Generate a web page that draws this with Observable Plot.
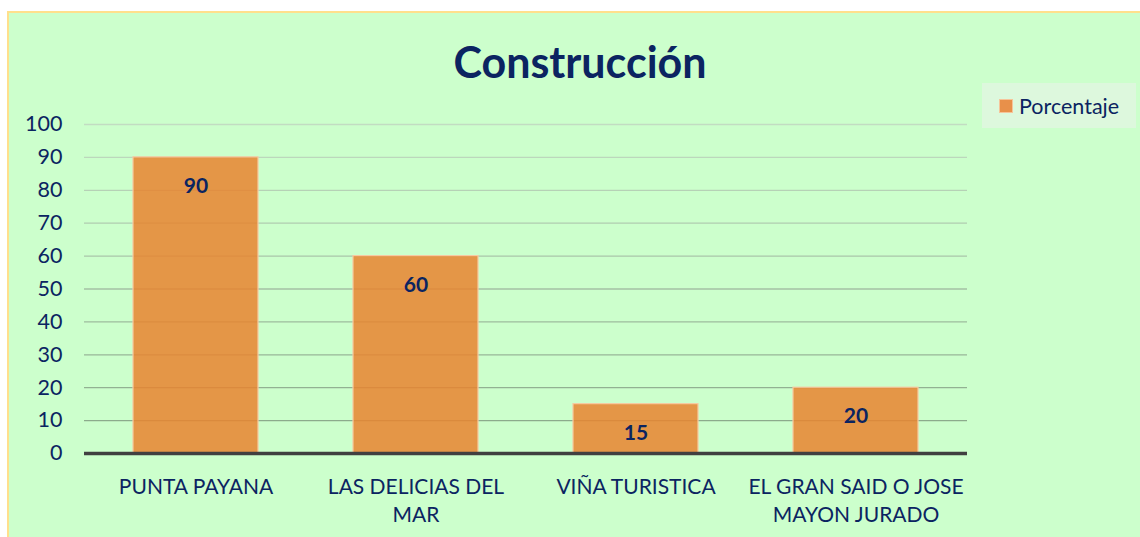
<!DOCTYPE html>
<html>
<head>
<meta charset="utf-8">
<script src="https://cdn.jsdelivr.net/npm/d3@7"></script>
<script src="https://cdn.jsdelivr.net/npm/@observablehq/plot@0.6"></script>
<style>
  html, body { margin: 0; padding: 0; background: #ffffff; width: 1140px; height: 537px; overflow: hidden; font-family: Lato, "Open Sans", sans-serif; }
  #frame { position: absolute; left: 7px; top: 11px; width: 1140px; height: 540px; background: #ccffcc; border-left: 2px solid #ffe08c; border-top: 2px solid #ffe08c; box-sizing: border-box; }
  #title { position: absolute; left: 0; top: 36px; width: 1160px; text-align: center; font-size: 43px; font-weight: 700; color: #0b2461; }
  #legend { position: absolute; left: 982px; top: 83px; width: 154px; height: 45px; background: #ddf8dd; display: flex; align-items: center; font-size: 21.5px; color: #0b2461; }
  #legend .sw { width: 12px; height: 12px; background: #e8904a; border: 1px solid #f6c49a; margin-left: 17px; margin-right: 6px; }
  #chart { position: absolute; left: 0; top: 100px; }
</style>
</head>
<body>
<div id="frame"></div>
<div id="title">Construcción</div>
<div id="legend"><div class="sw"></div><span>Porcentaje</span></div>
<div id="chart"></div>
<script>
const categories = ["PUNTA PAYANA", "LAS DELICIAS DEL MAR", "VIÑA TURISTICA", "EL GRAN SAID O JOSE MAYON JURADO"];
const tickLabels = ["PUNTA PAYANA", "LAS DELICIAS DEL\nMAR", "VIÑA TURISTICA", "EL GRAN SAID O JOSE\nMAYON JURADO"];
const porcentaje = [90, 60, 15, 20];
const yTicks = [0, 10, 20, 30, 40, 50, 60, 70, 80, 90, 100];

const data = categories.map((c, i) => ({category: c, value: porcentaje[i]}));
const gridCol = d3.interpolateRgb("#86a686", "#c2dcc2");

const chart = Plot.plot({
  width: 1140,
  height: 437,
  marginLeft: 84,
  marginRight: 173,
  marginTop: 24,
  marginBottom: 84,
  style: {background: "transparent", fontFamily: "Lato, 'Open Sans', sans-serif", color: "#0b2461"},
  x: {domain: categories, paddingInner: 0.434, paddingOuter: 0.217, label: null},
  y: {domain: [0, 100], label: null},
  marks: [
    Plot.ruleY(yTicks.filter(t => t > 0), {y: d => d, stroke: d => gridCol(d / 100), strokeWidth: 1.3}),
    Plot.barY(data, {x: "category", y: "value", fill: "#e8842f", fillOpacity: 0.85, stroke: "#f7caa0", strokeWidth: 1.2}),
    Plot.ruleY([0], {stroke: "#404040", strokeWidth: 3.5}),
    Plot.text(data, {x: "category", y: "value", text: d => String(d.value), dy: 29, fontSize: 21, fontWeight: 700, fill: "#0b2461"}),
    Plot.axisY({ticks: yTicks, tickSize: 0, tickPadding: 22, fontSize: 21.5, fill: "#0b2461", label: null}),
    Plot.axisX({tickSize: 0, tickPadding: 20, fontSize: 21, fill: "#0b2461", lineHeight: 1.36, tickFormat: (d) => tickLabels[categories.indexOf(d)], label: null})
  ]
});
document.getElementById("chart").appendChild(chart);
</script>
</body>
</html>
